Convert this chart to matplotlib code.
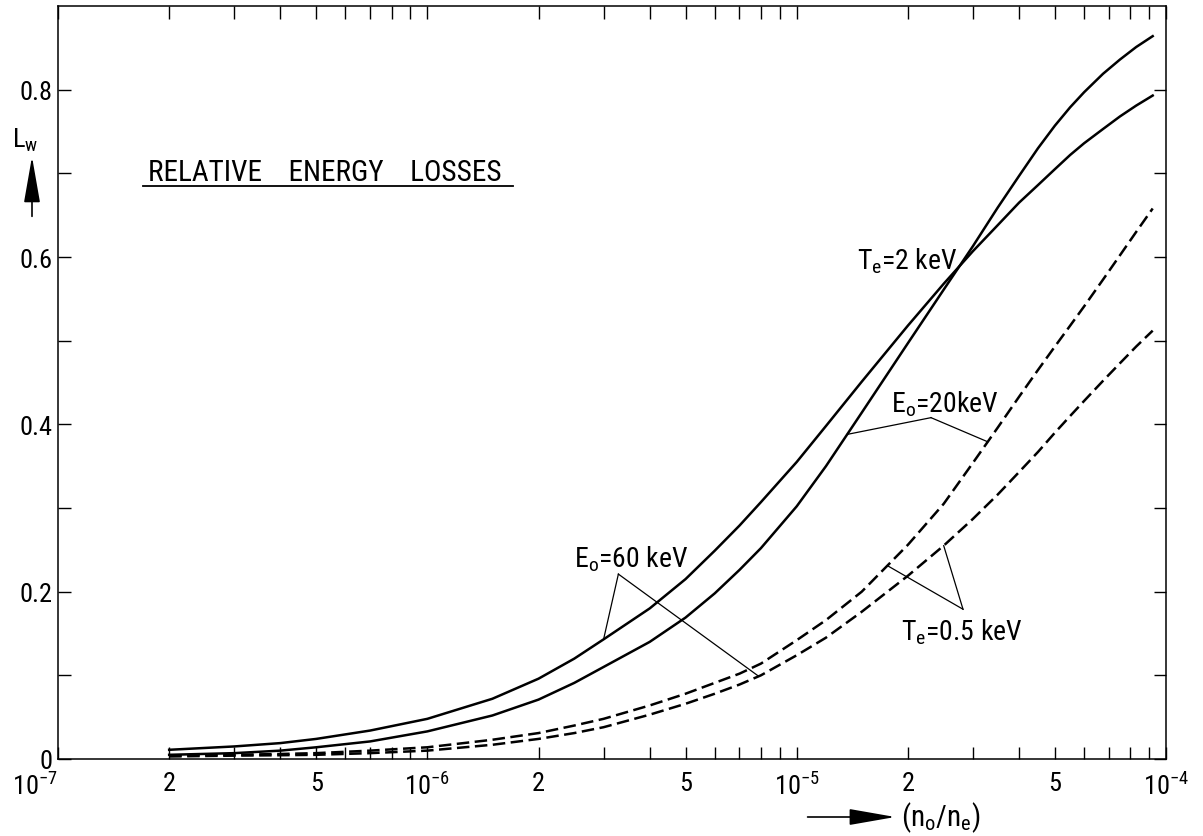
import numpy as np
import matplotlib
matplotlib.use("Agg")
import matplotlib.pyplot as plt
from matplotlib.patches import FancyArrowPatch
from matplotlib.ticker import FixedLocator, FixedFormatter, NullFormatter

plt.rcParams["font.family"] = ["Roboto Condensed", "Roboto", "DejaVu Sans"]

# neutral / electron density ratio
n_ratio = [2e-7, 3e-7, 4e-7, 5e-7, 7e-7, 1e-6, 1.5e-6, 2e-6, 2.5e-6, 3e-6, 4e-6, 5e-6, 6e-6,
           7e-6, 8e-6, 1e-5, 1.2e-5, 1.5e-5, 2e-5, 2.5e-5, 3e-5, 3.5e-5, 4e-5, 4.5e-5, 5e-5,
           5.5e-5, 6e-5, 6.75e-5, 7.5e-5, 8.3e-5, 9.2e-5]

# relative energy losses L_w, Te = 2 keV (solid)
lw_e60_t2 = [0.011, 0.015, 0.019, 0.024, 0.034, 0.048, 0.072, 0.096, 0.120, 0.143, 0.180, 0.215,
             0.249, 0.279, 0.307, 0.355, 0.398, 0.451, 0.518, 0.568, 0.607, 0.638, 0.665, 0.686,
             0.705, 0.722, 0.736, 0.753, 0.768, 0.781, 0.793]
lw_e20_t2 = [0.005, 0.007, 0.010, 0.014, 0.021, 0.033, 0.052, 0.071, 0.091, 0.110, 0.140, 0.169,
             0.198, 0.226, 0.252, 0.302, 0.350, 0.414, 0.497, 0.561, 0.613, 0.659, 0.697, 0.730,
             0.757, 0.779, 0.797, 0.819, 0.836, 0.851, 0.864]

# Te = 0.5 keV (dashed)
lw_e20_t05 = [0.004, 0.005, 0.006, 0.007, 0.010, 0.014, 0.023, 0.031, 0.040, 0.048, 0.064, 0.078,
              0.091, 0.102, 0.114, 0.142, 0.166, 0.200, 0.256, 0.305, 0.354, 0.396, 0.433, 0.465,
              0.493, 0.518, 0.541, 0.573, 0.602, 0.630, 0.658]
lw_e60_t05 = [0.003, 0.004, 0.0045, 0.005, 0.007, 0.010, 0.017, 0.024, 0.031, 0.038, 0.053, 0.066,
              0.078, 0.089, 0.100, 0.124, 0.145, 0.176, 0.219, 0.255, 0.287, 0.316, 0.343, 0.367,
              0.390, 0.410, 0.428, 0.452, 0.473, 0.493, 0.512]

x_major = [1e-7, 2e-7, 5e-7, 1e-6, 2e-6, 5e-6, 1e-5, 2e-5, 5e-5, 1e-4]
x_major_labels = [r"$\mathregular{10^{-7}}$", "2", "5", r"$\mathregular{10^{-6}}$", "2", "5",
                  r"$\mathregular{10^{-5}}$", "2", "5", r"$\mathregular{10^{-4}}$"]
y_major = [0.0, 0.2, 0.4, 0.6, 0.8]
y_major_labels = ["0", "0.2", "0.4", "0.6", "0.8"]


def on_curve(xv, xs, ys):
    # point on a curve, linear in log(x)
    return np.interp(np.log10(xv), np.log10(xs), ys)


fig = plt.figure(figsize=(12.03, 8.37), dpi=100)
ax = fig.add_axes([0.0482, 0.092, 0.9211, 0.8996])

ax.plot(n_ratio, lw_e60_t2, color="black", lw=1.8)
ax.plot(n_ratio, lw_e20_t2, color="black", lw=1.8)
ax.plot(n_ratio, lw_e20_t05, color="black", lw=1.8, dashes=(5, 2.2))
ax.plot(n_ratio, lw_e60_t05, color="black", lw=1.8, dashes=(5, 2.2))

ax.set_xscale("log")
ax.set_xlim(1e-7, 1e-4)
ax.set_ylim(0, 0.9)

minor_x = [m * 10.0 ** e for e in (-7, -6, -5) for m in (3, 4, 6, 7, 8, 9)]
ax.xaxis.set_major_locator(FixedLocator(x_major))
ax.xaxis.set_major_formatter(FixedFormatter(x_major_labels))
ax.xaxis.set_minor_locator(FixedLocator(minor_x))
ax.xaxis.set_minor_formatter(NullFormatter())
ax.yaxis.set_major_locator(FixedLocator(y_major))
ax.yaxis.set_major_formatter(FixedFormatter(y_major_labels))
ax.yaxis.set_minor_locator(FixedLocator([0.1, 0.3, 0.5, 0.7]))

for which in ("major", "minor"):
    ax.tick_params(axis="both", which=which, direction="in", length=9, width=1.0,
                   top=True, right=True, color="black")
ax.tick_params(axis="x", which="major", labelsize=19, pad=9)
ax.tick_params(axis="y", which="major", labelsize=19, pad=4)
for sp in ax.spines.values():
    sp.set_linewidth(1.1)

# first decade label sits left of its tick
ax.get_xticklabels()[0].set_horizontalalignment("right")

# heading with underline
ax.text(1.75e-7, 0.6925, "RELATIVE    ENERGY    LOSSES", fontsize=21, ha="left", va="baseline")
ax.plot([1.70e-7, 1.71e-6], [0.6854, 0.6854], color="black", lw=1.3)

# curve labels with leader lines
txt = dict(fontsize=20, ha="left", va="baseline")
ax.text(1.46e-5, 0.587, r"T$_\mathregular{e}$=2 keV", **txt)
ax.text(2.49e-6, 0.2305, r"E$_\mathregular{o}$=60 keV", **txt)
ax.text(1.80e-5, 0.4155, r"E$_\mathregular{o}$=20keV", **txt)
ax.text(1.91e-5, 0.1433, r"T$_\mathregular{e}$=0.5 keV", **txt)

leaders = [
    ((3.29e-6, 0.221), [(3.0e-6, lw_e60_t2), (7.89e-6, lw_e60_t05)]),
    ((2.31e-5, 0.408), [(1.37e-5, lw_e20_t2), (3.29e-5, lw_e20_t05)]),
    ((2.82e-5, 0.179), [(1.76e-5, lw_e20_t05), (2.50e-5, lw_e60_t05)]),
]
for (ax0, ay0), ends in leaders:
    for xe, ys in ends:
        ax.plot([ax0, xe], [ay0, on_curve(xe, n_ratio, ys)], color="black", lw=0.9)

# axis names with arrows
arrow_style = "-|>,head_length=1.6,head_width=0.28"
fig.text(0.021, 0.832, r"L$_\mathregular{w}$", fontsize=19, ha="center", va="center")
fig.patches.append(FancyArrowPatch((0.0266, 0.737), (0.0266, 0.815), transform=fig.transFigure,
                                   arrowstyle=arrow_style, mutation_scale=18,
                                   color="black", lw=1.2))
fig.patches.append(FancyArrowPatch((0.669, 0.0227), (0.7465, 0.0227), transform=fig.transFigure,
                                   arrowstyle=arrow_style, mutation_scale=18,
                                   color="black", lw=1.2))
fig.text(0.749, 0.0227, r"(n$_\mathregular{o}$/n$_\mathregular{e}$)", fontsize=21,
         ha="left", va="center")

fig.savefig("out.png", dpi=100)
